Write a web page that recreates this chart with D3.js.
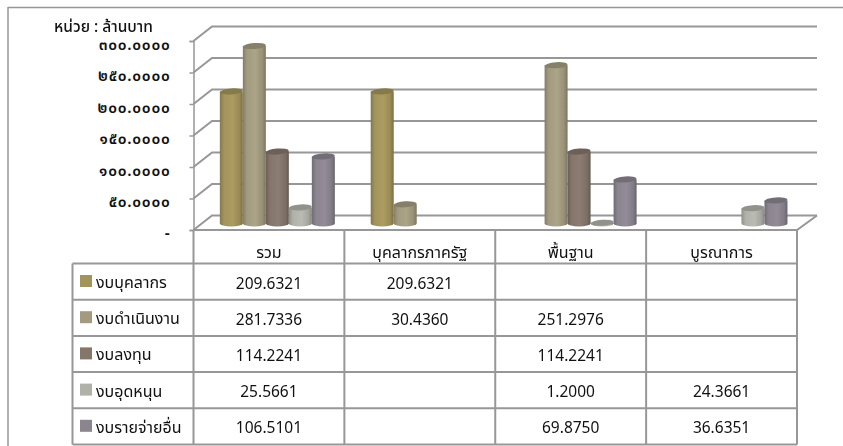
<!DOCTYPE html>
<html><head><meta charset="utf-8">
<script src="https://cdn.jsdelivr.net/npm/d3@7"></script>
<style>html,body{margin:0;padding:0;background:#fff;overflow:hidden}svg{display:block}text{font-family:"Noto Sans","Noto Sans Thai",Tahoma,sans-serif;fill:#111}</style>
</head><body><svg id="c" width="843" height="446"></svg>
<script>
const categories = ["รวม","บุคลากรภาครัฐ","พื้นฐาน","บูรณาการ"];
const seriesNames = ["งบบุคลากร","งบดำเนินงาน","งบลงทุน","งบอุดหนุน","งบรายจ่ายอื่น"];
const personnel = [209.6321,209.6321,null,null];
const operating = [281.7336,30.4360,251.2976,null];
const investment = [114.2241,null,114.2241,null];
const subsidy = [25.5661,null,1.2000,24.3661];
const other = [106.5101,null,69.8750,36.6351];
const seriesValues = [personnel,operating,investment,subsidy,other];
const seriesColors = ["#a3945c","#a39b80","#85766c","#b0b2aa","#8b8590"];
const tickValues = [0,50,100,150,200,250,300];
const unitLabel = "หน่วย : ล้านบาท";

const svg = d3.select("#c");
const defs = svg.append("defs");
defs.append("filter").attr("id","soft").append("feGaussianBlur").attr("stdDeviation",0.55);

const thai = s => s.replace(/\d/g,d=>"๐๑๒๓๔๕๖๗๘๙"[+d]);
const fmtTick = v => v===0 ? "-" : thai(d3.format(".4f")(v));
const fmtVal = d3.format(".4f");

const dx = 18.5, dy = 14.5;
const x0 = d3.scaleBand().domain(categories).range([193.5,797]);
const x1 = d3.scaleBand().domain(d3.range(seriesNames.length)).range([0,115]);
const y = d3.scaleLinear().domain([0,300]).range([230,41]);
const depthX = 8.4, depthY = 6.5;
const grey = "#979797";

// outer frame
const frame = svg.append("g");
frame.append("line").attr("x1",8).attr("x2",843).attr("y1",7.5).attr("y2",7.5).attr("stroke",grey).attr("stroke-width",1.5);
frame.append("line").attr("x1",8).attr("x2",8).attr("y1",7).attr("y2",446).attr("stroke",grey).attr("stroke-width",1.5);

// walls / grid
const grid = svg.append("g").attr("filter","url(#soft)").attr("fill","none").attr("stroke",grey);
tickValues.forEach(t=>{
  const yy=y(t);
  grid.append("path").attr("stroke-width",2)
    .attr("d",`M${x0.range()[0]},${yy}L${x0.range()[0]+dx},${yy-dy}L${x0.range()[1]+20},${yy-dy}`);
});
grid.append("path").attr("stroke-width",2)
  .attr("d",`M${x0.range()[0]},${y(0)}L${x0.range()[1]},${y(0)}L${x0.range()[1]+20},${y(0)-dy}`);

// axis
const axis = svg.append("g").attr("transform",`translate(${x0.range()[0]},0)`)
  .call(d3.axisLeft(y).tickValues(tickValues).tickFormat(fmtTick).tickSize(4).tickPadding(19));
axis.selectAll("path,line").attr("stroke",grey).attr("stroke-width",1.5);
axis.selectAll("text").attr("font-size",15.5).attr("font-weight",600).attr("letter-spacing",0.75)
  .attr("font-family",'"Noto Sans Thai","Noto Sans",sans-serif').attr("fill","#111")
  .attr("dy","0.72em").attr("transform","translate(0,-3)");

// gradients
seriesColors.forEach((c,i)=>{
  const g=defs.append("linearGradient").attr("id","cyl"+i);
  const col=d3.color(c);
  [[0,col.darker(0.6)],[0.18,col],[0.55,col.brighter(0.15)],[0.85,col.darker(0.2)],[1,col.darker(0.8)]]
    .forEach(([o,k])=>g.append("stop").attr("offset",o).attr("stop-color",k));
});

// bars
const bars = svg.append("g").attr("filter","url(#soft)");
categories.forEach((cat,ci)=>{
  seriesValues.forEach((vals,si)=>{
    const v=vals[ci]; if(v==null) return;
    const left=x0(cat)+(x0.bandwidth()-x1.step()*5)/2+depthX+x1(si);
    const w=x1.bandwidth(), rx=w/2, ry=3;
    const base=y(0)-depthY, top=y(v)-depthY;
    const k=bars.append("g");
    k.append("path").attr("fill",`url(#cyl${si})`)
      .attr("d",`M${left},${top}L${left},${base}A${rx},${ry} 0 0 0 ${left+w},${base}L${left+w},${top}Z`);
    k.append("ellipse").attr("cx",left+rx).attr("cy",top).attr("rx",rx).attr("ry",ry)
      .attr("transform",`rotate(-4 ${left+rx} ${top})`)
      .attr("fill",d3.color(seriesColors[si]).darker(0.55));
  });
});

// unit label
svg.append("text").attr("x",54).attr("y",32).attr("font-size",15.5).attr("font-weight",500).text(unitLabel);

// data table
const rowH = 36.2, headTop = 230, headBottom = 263.5;
const rowY = d3.scaleBand().domain(seriesNames).range([headBottom,headBottom+rowH*5]);
const tb = svg.append("g").attr("fill","none").attr("stroke",grey).attr("stroke-width",2);
const tableLeft = 72.5;
[...x0.domain().map(c=>x0(c)),x0.range()[1]].forEach(px=>{
  tb.append("line").attr("x1",px).attr("x2",px).attr("y1",headTop).attr("y2",rowY.range()[1]);
});
tb.append("line").attr("x1",tableLeft).attr("x2",tableLeft).attr("y1",headBottom).attr("y2",rowY.range()[1]);
[...seriesNames.map(n=>rowY(n)),rowY.range()[1]].forEach(py=>{
  tb.append("line").attr("x1",tableLeft).attr("x2",x0.range()[1]).attr("y1",py).attr("y2",py);
});
const label = svg.append("g");
categories.forEach(c=>{
  label.append("text").attr("x",x0(c)+x0.bandwidth()/2).attr("y",258).attr("text-anchor","middle").attr("font-size",16).attr("font-weight",400).text(c);
});
seriesNames.forEach((n,si)=>{
  const top=rowY(n);
  label.append("rect").attr("x",80).attr("y",top+11.5).attr("width",12).attr("height",12).attr("fill",seriesColors[si]);
  label.append("text").attr("x",96).attr("y",top+24.5).attr("font-size",16).attr("font-weight",400).text(n);
  categories.forEach((c,ci)=>{
    const v=seriesValues[si][ci]; if(v==null) return;
    label.append("text").attr("x",x0(c)+x0.bandwidth()/2).attr("y",top+25).attr("text-anchor","middle").attr("font-size",15.5).text(fmtVal(v));
  });
});
</script></body></html>
